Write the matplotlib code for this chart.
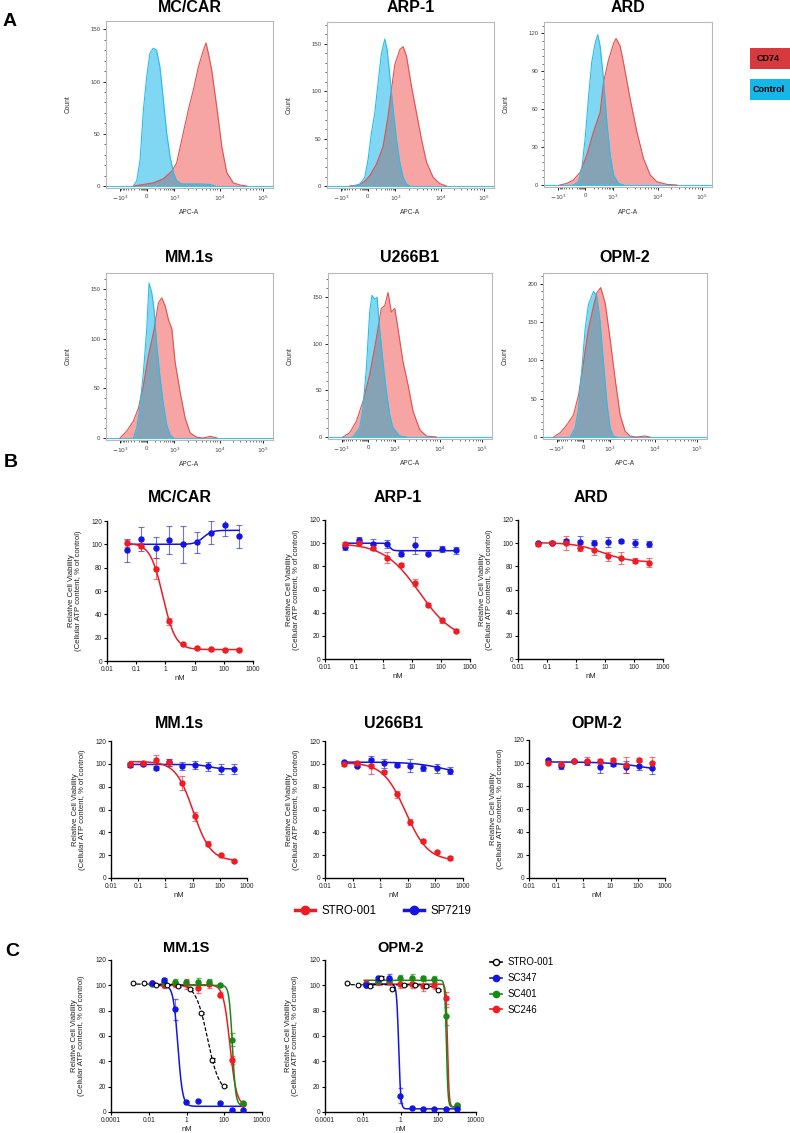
import numpy as np
import matplotlib
matplotlib.use('Agg')
import matplotlib.pyplot as plt
from matplotlib.lines import Line2D
from matplotlib.patches import Rectangle
from matplotlib.ticker import FixedLocator, NullLocator
from matplotlib.colors import to_rgba

plt.rcParams['font.family'] = ['Liberation Sans', 'DejaVu Sans']

W, H = 790, 1133

# ---------------- Panel A: CD74 flow histograms (x = display channel 0-1000, y = count)
hist_titles = ['MC/CAR', 'ARP-1', 'ARD', 'MM.1s', 'U266B1', 'OPM-2']

mccar_ctrl_ch = [164, 184, 204, 224, 244, 263, 283, 303, 323, 343, 363, 383, 403, 423, 453, 563, 623, 653]
mccar_ctrl_n = [0, 5, 25, 73, 105, 127, 132, 130, 114, 83, 51, 29, 13, 5, 2, 2, 1.5, 0]
mccar_cd74_ch = [164, 204, 283, 343, 393, 423, 463, 493, 523, 553, 583, 599, 613, 633, 663, 693, 723, 762, 802, 842]
mccar_cd74_n = [0, 1, 3, 7, 14, 22, 51, 73, 92, 114, 130, 137, 127, 111, 76, 38, 13, 3, 1, 0]

arp1_ctrl_ch = [156, 196, 226, 246, 266, 286, 306, 326, 346, 360, 376, 396, 416, 436, 456, 476, 496]
arp1_ctrl_n = [0, 2, 9, 28, 56, 77, 109, 140, 155, 144, 116, 81, 49, 25, 9, 2, 0]
arp1_cd74_ch = [136, 186, 226, 256, 296, 336, 366, 386, 406, 436, 456, 476, 506, 536, 566, 596, 636, 676, 716]
arp1_cd74_n = [0, 1, 5, 11, 23, 42, 74, 102, 128, 144, 147, 137, 105, 77, 49, 25, 9, 2.5, 0]

ard_ctrl_ch = [175, 205, 225, 245, 264, 284, 304, 320, 334, 354, 374, 394, 414, 443, 473]
ard_ctrl_n = [0, 2.6, 13, 37, 68, 97, 112, 119, 110, 84, 50, 23.5, 8, 1.3, 0]
ard_cd74_ch = [95, 135, 175, 215, 254, 294, 334, 354, 384, 414, 429, 453, 473, 513, 553, 592, 632, 672, 732, 791]
ard_cd74_n = [0, 1.3, 4, 10, 23.5, 42, 57.5, 81, 99, 112, 116, 110, 97, 68, 42, 21, 8, 2.6, 0.5, 0]

mm1s_ctrl_ch = [164, 184, 204, 224, 244, 258, 274, 288, 304, 324, 344, 364, 384, 404]
mm1s_ctrl_n = [0, 10, 33, 66, 110, 156, 146, 129, 93, 60, 33, 13, 3, 0]
mm1s_cd74_ch = [84, 124, 164, 194, 224, 254, 284, 314, 334, 354, 374, 394, 414, 444, 474, 504, 544, 584, 624, 664]
mm1s_cd74_n = [0, 7, 17, 30, 53, 83, 106, 136, 141, 133, 119, 110, 76, 46, 20, 5, 0.7, 0, 1.7, 0]

u266_ctrl_ch = [152, 193, 213, 234, 254, 268, 285, 299, 315, 335, 356, 376, 396, 437, 478]
u266_ctrl_n = [0, 10, 31, 74, 134, 152, 148, 150, 116, 81, 49, 24, 10, 1, 0]
u266_cd74_ch = [91, 132, 173, 213, 254, 295, 325, 346, 366, 386, 407, 427, 457, 488, 518, 559, 600, 661]
u266_cd74_n = [0, 4.6, 17, 38, 67, 106, 138, 141, 155, 134, 138, 116, 81, 56, 28, 8, 1, 0]

opm2_ctrl_ch = [166, 196, 217, 237, 257, 277, 308, 328, 348, 368, 389, 409, 429, 449]
opm2_ctrl_n = [0, 12, 38, 89, 141, 173, 190, 184, 150, 98, 46, 12, 1, 0]
opm2_cd74_ch = [65, 105, 146, 186, 217, 247, 277, 308, 328, 352, 379, 409, 439, 470, 500, 530, 571, 621, 652]
opm2_cd74_n = [0, 5.6, 16, 29, 55, 98, 141, 171, 188, 195, 175, 128, 77, 29, 8, 1.3, 0, 1.3, 0]

hist_ymax = [158, 173, 129, 166, 176, 214]
hist_ystep = [50, 50, 30, 50, 50, 50]
hist_xtick_ch = [85, 245, 410, 680, 940]
hist_xtick_labels = ['$-10^3$', '0', '$10^3$', '$10^4$', '$10^5$']

# ---------------- Panel B: viability vs STRO-001 / SP7219
conc_b = [0.05, 0.15, 0.46, 1.37, 4.1, 12.3, 37, 111, 333]

mccar_stro = [101, 99, 79, 34, 14.5, 11, 10, 9.5, 9.8]
mccar_stro_err = [3, 2, 9, 3, 1, 1, 1, 1, 1]
mccar_sp = [95, 104.5, 97, 104, 100, 102, 110, 116.5, 107]
mccar_sp_err = [10, 10, 9, 12, 16, 9, 10, 9, 10]

arp1_stro = [99.5, 100.5, 96, 87.5, 81, 66, 47, 33.5, 24.5]
arp1_stro_err = [1.5, 1.5, 2, 5, 2, 3, 1, 2, 1]
arp1_sp = [96.5, 103, 99, 99.5, 91, 98, 91, 95, 94]
arp1_sp_err = [2, 2, 5, 3.5, 2, 7, 1.5, 2.5, 3]

ard_stro = [99, 100.5, 100, 96, 94, 88.5, 87, 85, 83]
ard_stro_err = [1.5, 1, 6, 3, 4, 4, 5, 2.5, 4]
ard_sp = [100, 100.5, 101.5, 101, 100.5, 101, 101.5, 100.5, 99.5]
ard_sp_err = [1, 1, 2, 5.5, 2, 4.5, 1, 3.5, 2.5]

mm1s_stro = [99.5, 101, 103.5, 101.5, 83, 54, 30, 20, 15]
mm1s_stro_err = [2, 1.5, 4, 3, 6, 4, 2, 1, 1]
mm1s_sp = [99, 100, 96.5, 101.5, 98, 99, 98, 95.5, 95.5]
mm1s_sp_err = [2, 1.5, 2, 3, 3.5, 3.5, 4, 4, 4]

u266_stro = [99.5, 100.5, 98.5, 92.5, 73.5, 49, 32, 23, 17.5]
u266_stro_err = [1.5, 1, 7, 1, 3, 3, 1.5, 1, 1.5]
u266_sp = [101.5, 98.5, 103, 100.5, 99, 98.5, 96.5, 96, 94]
u266_sp_err = [1, 1.5, 3.5, 4, 2, 6, 2.5, 4, 3]

opm2_stro = [100, 99.5, 101.5, 101.5, 101.5, 102.5, 98.5, 102.5, 100]
opm2_stro_err = [1, 1, 1.5, 3.5, 2, 1.5, 7, 2, 5]
opm2_sp = [102.5, 97, 101.5, 100.5, 96.5, 99, 96.5, 97.5, 95.5]
opm2_sp_err = [1, 2, 1, 2, 5, 2, 5, 4, 5]

# 4-parameter logistic fits (bottom, top, IC50 nM, hill); None = no fitted line
fit_b_stro = [(9.8, 101, 0.82, 2.0), (15, 100, 18, 0.71), (83.5, 100.5, 8, 0.9),
              (15, 102, 10.5, 1.35), (15, 101, 8.3, 1.07), None]
fit_b_sp = [(112, 100, 20, 3.0), (93.5, 100, 1.7, 8), None,
            (95.5, 99.5, 40, 2.0), (90, 101.5, 200, 0.8), (90, 101, 300, 0.6)]

# ---------------- Panel C: STRO-001 vs free warheads
conc_c_stro = [0.0015, 0.0058, 0.023, 0.093, 0.37, 1.5, 5.9, 23.8, 95]
conc_c_sc = [0.015, 0.061, 0.24, 0.98, 3.9, 15.6, 62.5, 250, 1000]
c_series = ['STRO-001', 'SC347', 'SC401', 'SC246']

mm1S_c = {
    'STRO-001': [101.5, 101.5, 100.5, 100.5, 99.5, 97, 78, 41, 20.5],
    'SC347': [101.5, 104, 81, 8, 9, np.nan, 7.5, 1.5, 1.5],
    'SC401': [101, 102.5, 103, 102.5, 103, 103, 100, 57, 7],
    'SC246': [102, 100, 101, 101, 98, 101, 92.5, 41, 6.5],
}
mm1S_c_err = {
    'STRO-001': [0.5, 0.5, 0.5, 0.5, 0.5, 1, 1, 1.5, 1],
    'SC347': [1, 1, 8, 0.5, 0.5, 0, 0.5, 0.5, 0.5],
    'SC401': [1, 3, 2, 2, 3, 2, 1, 5, 1],
    'SC246': [1, 2, 2, 4, 4, 3, 2, 3, 1],
}
opm2_c = {
    'STRO-001': [101.5, 100.5, 99.5, 106, 97.5, 100, 100, 99.5, 96.5],
    'SC347': [100, 105.5, 106, 13, 3.5, 2.5, 2.5, 2.5, 2.5],
    'SC401': [100, 103.5, 104, 106, 106, 105.5, 105, 76, 5.5],
    'SC246': [101.5, 102.5, 103, 101, 101, 99.5, 100, 90, 5],
}
opm2_c_err = {
    'STRO-001': [0.5, 0.5, 0.5, 1, 1, 0.5, 0.5, 1, 1],
    'SC347': [1, 1.5, 3, 6, 0.5, 0.5, 0.5, 0.5, 0.5],
    'SC401': [1, 1.5, 2, 2, 3, 2, 2, 7, 1],
    'SC246': [1, 2, 2, 3, 3, 4, 3, 5, 1],
}
fit_c_mm1S = {'STRO-001': (15, 101, 13, 1.4), 'SC347': (4.5, 100, 0.35, 3.5),
              'SC401': (5, 100, 270, 5), 'SC246': (5, 100.5, 200, 2.5)}
fit_c_opm2 = {'STRO-001': (96, 100.5, 60, 2), 'SC347': (2.5, 101, 0.8, 8),
              'SC401': (4, 104, 270, 10), 'SC246': (4, 101, 310, 10)}

RED = '#ee1c24'
BLUE = '#1414e6'
GREEN = '#168a16'
c_colors = {'STRO-001': 'black', 'SC347': BLUE, 'SC401': GREEN, 'SC246': RED}


def logistic(x, bottom, top, ic50, hill):
    return bottom + (top - bottom) / (1 + (x / ic50) ** hill)


def pale(c, a=0.6):
    return to_rgba(c, a)


fig = plt.figure(figsize=(W / 100, H / 100), dpi=100)


def add_ax(x0, y0, x1, y1):
    return fig.add_axes([x0 / W, 1 - y1 / H, (x1 - x0) / W, (y1 - y0) / H])


def ftext(x, y, s, **kw):
    fig.text(x / W, 1 - y / H, s, **kw)


# ---------- A
hist_data = [
    (mccar_ctrl_ch, mccar_ctrl_n, mccar_cd74_ch, mccar_cd74_n),
    (arp1_ctrl_ch, arp1_ctrl_n, arp1_cd74_ch, arp1_cd74_n),
    (ard_ctrl_ch, ard_ctrl_n, ard_cd74_ch, ard_cd74_n),
    (mm1s_ctrl_ch, mm1s_ctrl_n, mm1s_cd74_ch, mm1s_cd74_n),
    (u266_ctrl_ch, u266_ctrl_n, u266_cd74_ch, u266_cd74_n),
    (opm2_ctrl_ch, opm2_ctrl_n, opm2_cd74_ch, opm2_cd74_n),
]
hist_boxes = [(106, 21, 273, 188), (327, 22, 494, 188), (544, 22, 712, 187),
              (106, 273, 273, 440), (328, 273, 492, 439), (543, 273, 707, 439)]
hist_title_y = [8, 8, 8, 258, 258, 258]

k = np.arange(2, 10)
minor_x = np.concatenate([410 + 270 * np.log10(k), 680 + 260 * np.log10(k),
                          245 + 165 * np.log10(k), 245 - 160 * np.log10(k),
                          np.linspace(210, 240, 6)])

for i, (cx, cy, rx, ry) in enumerate(hist_data):
    x0, y0, x1, y1 = hist_boxes[i]
    ax = add_ax(x0, y0, x1, y1)
    ymax = hist_ymax[i]
    red = ax.fill_between(rx, ry, color='#f7a4a4', lw=0)
    ax.fill_between(cx, cy, color='#80d7f3', lw=0)
    over = ax.fill_between(cx, cy, color='#86a3b6', lw=0)
    over.set_clip_path(red.get_paths()[0], ax.transData)
    ax.axhline(0, color='#3cc3ea', lw=0.8)
    ax.plot(rx, ry, color='#e4504e', lw=0.8)
    ax.plot(cx, cy, color='#28bde8', lw=0.8)
    ax.set_xlim(0, 1000)
    ax.set_ylim(-ymax * 0.012, ymax)
    step = hist_ystep[i]
    ax.yaxis.set_major_locator(FixedLocator(np.arange(0, ymax, step)))
    ax.yaxis.set_minor_locator(FixedLocator(np.arange(0, ymax, step / 5)))
    ax.xaxis.set_major_locator(FixedLocator(hist_xtick_ch))
    ax.xaxis.set_minor_locator(FixedLocator(minor_x))
    ax.set_xticklabels(hist_xtick_labels)
    for sp in ax.spines.values():
        sp.set_color('#b8b8b8')
        sp.set_linewidth(0.8)
    ax.tick_params(which='major', direction='out', colors='#222', labelcolor='#444',
                   labelsize=4.3, length=2.5, width=0.7, pad=1.5)
    ax.tick_params(which='minor', direction='out', colors='#333', length=1.4, width=0.5)
    w = x1 - x0
    h = y1 - y0
    ax.text(-38 / w, 0.5, 'Count', transform=ax.transAxes, rotation=90,
            ha='center', va='center', fontsize=4.8, color='#333')
    ax.text(0.5, -25 / h, 'APC-A', transform=ax.transAxes,
            ha='center', va='center', fontsize=4.8, color='#333')
    ftext((x0 + x1) / 2, hist_title_y[i], hist_titles[i], ha='center', va='center',
          fontsize=11.5, fontweight='bold')

# legend boxes for A
fig.add_artist(Rectangle((750 / W, 1 - 69 / H), 50 / W, 21 / H, transform=fig.transFigure,
                         facecolor='#d6393e', edgecolor='none'))
fig.add_artist(Rectangle((750 / W, 1 - 100 / H), 50 / W, 21 / H, transform=fig.transFigure,
                         facecolor='#15b6e8', edgecolor='none'))
ftext(757, 58.5, 'CD74', ha='left', va='center', fontsize=6.5, fontweight='bold')
ftext(753, 89.5, 'Control', ha='left', va='center', fontsize=6.5, fontweight='bold')

# ---------- B
b_stro = [mccar_stro, arp1_stro, ard_stro, mm1s_stro, u266_stro, opm2_stro]
b_stro_err = [mccar_stro_err, arp1_stro_err, ard_stro_err, mm1s_stro_err, u266_stro_err, opm2_stro_err]
b_sp = [mccar_sp, arp1_sp, ard_sp, mm1s_sp, u266_sp, opm2_sp]
b_sp_err = [mccar_sp_err, arp1_sp_err, ard_sp_err, mm1s_sp_err, u266_sp_err, opm2_sp_err]
b_boxes = [(107, 521, 253, 661), (325, 520, 470, 659), (518, 520, 663, 659),
           (111, 741, 247, 878), (325, 741, 463, 878), (529, 740, 665, 878)]
b_title_y = [497, 497, 497, 723, 723, 723]

ylab = 'Relative Cell Viability\n(Cellular ATP content, % of control)'


def style_dose(ax, x0, y0, x1, y1, xlim, xticks, xticklabels, lab_off):
    ax.set_xscale('log')
    ax.set_xlim(*xlim)
    ax.set_ylim(0, 120)
    ax.set_yticks(range(0, 121, 20))
    ax.xaxis.set_major_locator(FixedLocator(xticks))
    ax.xaxis.set_minor_locator(NullLocator())
    ax.set_xticklabels(xticklabels)
    for s in ['top', 'right']:
        ax.spines[s].set_visible(False)
    for s in ['left', 'bottom']:
        ax.spines[s].set_linewidth(1.0)
    ax.tick_params(direction='out', length=2.5, width=0.8, labelsize=4.8, pad=1,
                   labelcolor='#222')
    w = x1 - x0
    ax.text(-lab_off / w, 0.5, ylab, transform=ax.transAxes, rotation=90,
            ha='center', va='center', fontsize=5.6, linespacing=1.05, color='#222')
    ax.set_xlabel('nM', fontsize=5.6, labelpad=1.5, color='#222')


for i in range(6):
    x0, y0, x1, y1 = b_boxes[i]
    ax = add_ax(x0, y0, x1, y1)
    xs = np.array(conc_b)
    xf = np.logspace(np.log10(xs[0]), np.log10(xs[-1]), 300)
    for vals, errs, fit, col in [(b_sp[i], b_sp_err[i], fit_b_sp[i], BLUE),
                                 (b_stro[i], b_stro_err[i], fit_b_stro[i], RED)]:
        if fit is not None:
            ax.plot(xf, logistic(xf, *fit), color=col, lw=1.1, zorder=2)
        ax.errorbar(xs, vals, yerr=errs, fmt='o', color=col, ms=3.6, elinewidth=0.8,
                    capsize=2, capthick=0.8, ecolor=pale(col), zorder=3)
    style_dose(ax, x0, y0, x1, y1, (0.01, 1000), [0.01, 0.1, 1, 10, 100, 1000],
               ['0.01', '0.1', '1', '10', '100', '1000'], 32)
    ftext((x0 + x1) / 2, b_title_y[i], hist_titles[i], ha='center', va='center',
          fontsize=11.5, fontweight='bold')

b_handles = [Line2D([], [], color=RED, marker='o', ms=6, lw=2.5),
             Line2D([], [], color=BLUE, marker='o', ms=6, lw=2.5)]
fig.legend(b_handles, ['STRO-001', 'SP7219'], loc='center left',
           bbox_to_anchor=(295 / W, 1 - 911 / H), ncol=2, frameon=False, fontsize=8.3,
           handlelength=1.7, handletextpad=0.6, columnspacing=2.4, borderpad=0,
           borderaxespad=0)

# ---------- C
c_boxes = [(111, 960, 262, 1112), (325, 960, 476, 1112)]
c_titles = ['MM.1S', 'OPM-2']
c_sets = [(mm1S_c, mm1S_c_err, fit_c_mm1S), (opm2_c, opm2_c_err, fit_c_opm2)]
for j in range(2):
    x0, y0, x1, y1 = c_boxes[j]
    ax = add_ax(x0, y0, x1, y1)
    vals, errs, fits = c_sets[j]
    for name in ['SC246', 'SC401', 'SC347', 'STRO-001']:
        xs = np.array(conc_c_stro if name == 'STRO-001' else conc_c_sc)
        xf = np.logspace(np.log10(xs[0]) - 0.1, np.log10(xs[-1]), 400)
        col = c_colors[name]
        if name == 'STRO-001':
            ax.plot(xf, logistic(xf, *fits[name]), color='black', lw=0.9, ls=(0, (3, 1.5)), zorder=2)
            ax.errorbar(xs, vals[name], yerr=errs[name], fmt='o', color='black', mfc='white',
                        ms=3.4, mew=0.8, elinewidth=0.7, capsize=1.8, zorder=4)
        else:
            ax.plot(xf, logistic(xf, *fits[name]), color=col, lw=1.1, zorder=2)
            ax.errorbar(xs, vals[name], yerr=errs[name], fmt='o', color=col, ms=3.6,
                        elinewidth=0.7, capsize=1.8, ecolor=pale(col), zorder=3)
    style_dose(ax, x0, y0, x1, y1, (0.0001, 10000), [1e-4, 1e-2, 1, 100, 1e4],
               ['0.0001', '0.01', '1', '100', '10000'], 33)
    ftext((x0 + x1) / 2, 948, c_titles[j], ha='center', va='center',
          fontsize=10.5, fontweight='bold')

c_handles = [Line2D([], [], color='black', marker='o', mfc='white', ms=4.5, lw=1.2),
             Line2D([], [], color=BLUE, marker='o', ms=4.5, lw=1.2),
             Line2D([], [], color=GREEN, marker='o', ms=4.5, lw=1.2),
             Line2D([], [], color=RED, marker='o', ms=4.5, lw=1.2)]
fig.legend(c_handles, c_series, loc='upper left', bbox_to_anchor=(490 / W, 1 - 957 / H),
           frameon=False, fontsize=6.9, handlelength=1.2, handletextpad=0.6,
           labelspacing=0.62, borderpad=0, borderaxespad=0)

# panel letters
ftext(10, 21, 'A', ha='center', va='center', fontsize=14, fontweight='bold')
ftext(11, 463, 'B', ha='center', va='center', fontsize=14, fontweight='bold')
ftext(12, 951, 'C', ha='center', va='center', fontsize=14, fontweight='bold')

fig.savefig('out.png', dpi=100)
